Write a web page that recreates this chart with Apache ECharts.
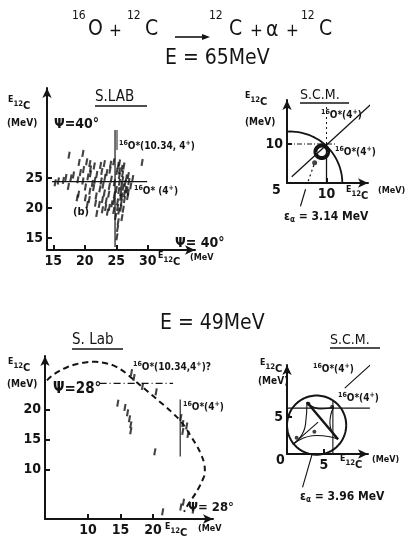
<!DOCTYPE html>
<html>
<head>
<meta charset="utf-8">
<script src="https://cdn.jsdelivr.net/npm/echarts@6/dist/echarts.min.js"></script>
<style>
  html, body { margin: 0; padding: 0; background: #fff; }
  #chart { width: 413px; height: 543px; }
</style>
</head>
<body>
<div id="chart"></div>
<script>
// ---------- data (MeV) ----------
// E = 65 MeV, laboratory frame: coincidence events
const lab65Events = [
  [17.5,28.8],[19.7,29.1],[19.1,27.6],[20.3,27.7],[20.8,27.4],[29.1,27.6],
  [15.3,24.2],[15.8,24.5],[16.6,24.6],[17.0,25.1],[17.8,25.0],[18.2,25.5],[18.9,24.7],[17.4,23.6],
  [19.3,25.9],[19.8,26.4],[20.9,26.5],[21.5,27.0],[22.5,27.1],[23.1,27.4],[24.1,27.3],[24.6,27.7],[25.5,27.5],[26.2,27.0],
  [19.7,24.5],[20.5,25.2],[20.9,25.7],[21.9,25.6],[22.7,26.1],[23.5,25.9],[24.0,26.3],
  [20.1,23.5],[21.2,24.1],[21.6,24.6],[22.6,24.5],[23.2,25.1],[24.2,24.8],
  [20.8,22.8],[21.4,23.4],[22.4,23.2],[22.9,23.8],[23.9,23.6],
  [25.3,27.1],[25.5,26.2],[26.0,25.7],[26.0,24.7],[26.4,24.1],[26.5,23.1],[26.3,22.4],[26.3,21.4],[25.8,20.9],[25.7,20.0],
  [25.1,26.1],[25.5,25.4],[25.5,24.3],[25.8,23.6],[25.7,22.5],[25.7,21.8],[25.2,21.0],[25.2,20.1],
  [26.9,25.4],[27.0,24.4],[27.3,23.7],[26.9,22.6],[26.8,21.9],[27.6,24.9],
  [24.7,24.2],[25.0,23.1],[24.7,22.2],[24.6,21.1],[25.4,22.9],[26.1,23.5],
  [25.9,26.6],[26.6,25.0],[26.7,23.0],[25.9,22.0],[25.4,19.5],[26.1,19.8],
  [19.0,22.3],[20.1,21.7],[20.7,21.4],[21.7,20.8],[22.3,20.6],[23.3,20.1],[23.9,20.1],[24.6,19.6],
  [21.8,22.0],[22.8,21.4],[23.4,21.2],[24.3,20.7],[23.1,22.5],[23.8,22.3],
  [18.8,21.7],[20.4,20.6],[21.9,19.1],[22.8,19.7],[23.6,19.3],
  [24.9,18.6],[25.3,17.7],[25.9,18.4],[25.2,16.6],[25.1,15.2]
];
const lab65Level1034 = [[24.8,13.5],[24.8,33.0]];   // vertical 16O*(10.34, 4+)
const lab65Level4 = [[14.8,24.4],[29.9,24.4]];       // horizontal 16O*(4+)

// E = 65 MeV, centre-of-mass frame
const scm65Boundary = [[5.4,5.0,6.6,0,93.5]];        // cx, cy, r, start/end angle (deg)
const scm65Diagonal = [[5.6,5.8],[16.8,16.2]];
const scm65Vertical = [[10,5],[10,10]];
const scm65VerticalUp = [[10,10],[10,14.8]];
const scm65Horizontal = [[5,10],[11.3,10]];
const scm65Cluster = [[9.4,9.0,0.8,0,360]];
const scm65Spot = [[8.5,7.6]];
const scm65Alpha = [[8.4,7.3],[7.6,5.0]];
const scm65AlphaLeader = [[7.35,4.2],[6.7,2.0]];

// E = 49 MeV, laboratory frame
const lab49Locus = [
  [3.7,24.9],[4.4,25.6],[5.5,26.4],[6.8,27.1],[8.2,27.6],[9.6,27.9],[11.2,28.0],[12.6,27.8],
  [13.9,27.4],[15.1,26.7],[16.2,25.8],[17.4,24.7],[18.6,23.6],[19.8,22.5],[21.0,21.4],[22.1,20.4],
  [23.1,19.4],[24.2,18.2],[25.1,16.9],[25.9,15.5],[26.7,14.1],[27.4,12.6],[27.9,11.0],[28.0,9.6],
  [27.6,8.2],[26.9,6.7],[26.1,5.3],[25.3,4.0],[24.8,3.0]
];
const lab49Level1034 = [[11.8,24.4],[23.1,24.4]];
const lab49Level4 = [[24.2,12.2],[24.2,21.7]];
const lab49Events = [
  [14.6,21.1],[15.7,20.4],[16.1,19.5],[16.4,18.5],[16.6,17.5],[16.6,16.5],
  [20.3,13.0],
  [16.7,26.2],[17.1,25.4],[18.4,23.9],[20.5,23.0],
  [24.3,18.7],[24.6,17.7],[25.2,17.3],[24.6,16.4],[25.4,15.9],
  [21.5,3.0],[24.3,3.8],[24.7,4.6],[26.2,3.3]
];

// E = 49 MeV, centre-of-mass frame
const scm49Boundary = [[4.0,3.9,4.0,0,360]];
const scm49EdgeTop = [[2.7,7.0],[4.5,6.1],[6.3,6.3]];
const scm49EdgeRight = [[6.3,6.3],[5.8,4.2],[6.9,2.0]];
const scm49EdgeBottom = [[6.9,2.0],[4.0,2.5],[0.8,1.3]];
const scm49EdgeLeft = [[0.8,1.3],[2.5,4.0],[2.7,7.0]];
const scm49Diagonal = [[2.7,7.0],[6.9,2.0]];
const scm49Inner = [[0.8,1.3],[4.2,4.3]];
const scm49Horizontal = [[0,6.2],[11.2,6.2]];
const scm49Vertical = [[6.2,0],[6.2,7.3]];
const scm49Leader = [[7.8,8.9],[12.0,12.7]];
const scm49AlphaLeader = [[3.4,0],[2.1,-4.5]];
const scm49Events = [[0.2,5.1],[2.9,6.8],[6.1,6.4],[3.7,3.0],[1.3,2.2]];

// axis ticks
const lab65XTicks = [15,20,25,30], lab65YTicks = [15,20,25];
const scm65XTicks = [10], scm65YTicks = [10];
const lab49XTicks = [10,15,20], lab49YTicks = [10,15,20];
const scm49XTicks = [5], scm49YTicks = [5];

// ---------- drawing ----------
const INK = '#141414';
const FONT = "'DejaVu Sans Condensed','DejaVu Sans',sans-serif";

const chart = echarts.init(document.getElementById('chart'), null, {renderer: 'canvas'});

function axis(min, max, ticks, extra) {
  return Object.assign({
    type: 'value', min: min, max: max,
    axisLine: {show: true, onZero: false, symbol: ['none', 'arrow'], symbolSize: [7, 10],
               lineStyle: {color: INK, width: 2}},
    axisTick: {show: true, inside: true, length: 5, customValues: ticks,
               lineStyle: {color: INK, width: 2}},
    axisLabel: {show: true, customValues: ticks, color: INK, fontSize: 14,
                fontFamily: FONT, fontWeight: 'bold', margin: 4},
    splitLine: {show: false}
  }, extra || {});
}

function seg(grid, data, opts) {
  opts = opts || {};
  return {
    type: 'line', xAxisIndex: grid, yAxisIndex: grid, data: data,
    symbol: 'none', silent: true, clip: false, smooth: opts.smooth || false,
    lineStyle: {color: INK, width: opts.width || 1.2, type: opts.type || 'solid'},
    z: 3
  };
}

function marks(grid, data, size) {
  return {
    type: 'scatter', xAxisIndex: grid, yAxisIndex: grid, data: data,
    symbol: 'rect', symbolSize: size || [2.1, 7], symbolRotate: -10,
    itemStyle: {color: INK}, silent: true, z: 4
  };
}

function dots(grid, data, size) {
  return {
    type: 'scatter', xAxisIndex: grid, yAxisIndex: grid, data: data,
    symbol: 'circle', symbolSize: size, itemStyle: {color: INK}, silent: true, z: 4
  };
}

// circle or arc given by centre, radius and angular range in data units
function arc(grid, data, width) {
  return {
    type: 'custom', xAxisIndex: grid, yAxisIndex: grid, data: data, silent: true, clip: false,
    encode: {x: 0, y: 1},
    renderItem: function (params, api) {
      const c = api.coord([api.value(0), api.value(1)]);
      const s = api.size([api.value(2), api.value(2)]);
      const a0 = api.value(3), a1 = api.value(4);
      const pts = [];
      for (let a = a0; a <= a1 + 0.01; a += 3) {
        const r = a * Math.PI / 180;
        pts.push([c[0] + s[0] * Math.cos(r), c[1] - s[1] * Math.sin(r)]);
      }
      return {type: 'polyline', shape: {points: pts},
              style: {stroke: INK, fill: null, lineWidth: width}};
    },
    z: 3
  };
}

// text helpers
const mctx = document.createElement('canvas').getContext('2d');
function tw(t, size, weight) {
  mctx.font = (weight || 'bold') + ' ' + size + 'px ' + FONT;
  return mctx.measureText(t).width;
}
const graphics = [];
function txt(t, x, yc, size, weight) {
  graphics.push({
    type: 'text', x: x, y: yc, silent: true, z: 10,
    style: {text: t, fill: INK, font: (weight || 'bold') + ' ' + size + 'px ' + FONT,
            textAlign: 'left', textVerticalAlign: 'middle', align: 'left', verticalAlign: 'middle'}
  });
}
// sequence of pieces [text, size, dy]
function run(x, yc, parts, weight) {
  parts.forEach(function (p) {
    txt(p[0], x, yc + (p[2] || 0), p[1], weight);
    x += tw(p[0], p[1], weight);
  });
}
function rule(x1, y1, x2, y2, w) {
  graphics.push({type: 'line', silent: true, z: 10,
    shape: {x1: x1, y1: y1, x2: x2, y2: y2}, style: {stroke: INK, lineWidth: w || 1.5}});
}
function ecLabel(x, yc, s) {
  run(x, yc, [['E', s * 0.8, -3], ['12', s * 0.7, 1], ['C', s, 3]]);
}
function levelLabel(x, yc, s, inner) {
  run(x, yc, [['16', s * 0.7, -3], ['O*', s, 0]].concat(inner));
}

// reaction header
txt('16', 72, 16, 12, 'normal'); txt('O', 88, 30, 21, 'normal');
txt('+', 109, 32, 17, 'normal');
txt('12', 127, 16, 12, 'normal'); txt('C', 145, 30, 21, 'normal');
rule(175, 37, 207, 37, 1.6);
graphics.push({type: 'polygon', silent: true, z: 10,
  shape: {points: [[210, 37], [202, 34], [202, 40]]}, style: {fill: INK}});
txt('12', 209, 16, 12, 'normal'); txt('C', 229, 30, 21, 'normal');
txt('+', 250, 32, 17, 'normal');
txt('α', 266, 31, 21, 'normal');
txt('+', 286, 32, 17, 'normal');
txt('12', 301, 16, 12, 'normal'); txt('C', 319, 30, 21, 'normal');

txt('E = 65MeV', 165, 59, 21, 'normal');
txt('E = 49MeV', 160, 324, 21, 'normal');

// panel: 65 MeV lab
ecLabel(8, 103, 11);
txt('(MeV)', 7, 123, 10);
txt('S.LAB', 95, 97, 15, 'normal'); rule(95, 106, 147, 106, 1.5);
txt('Ψ=40°', 54, 124, 14);
rule(117, 130, 117, 150, 1);
levelLabel(119, 146, 10, [['(10.34, 4', 10, 0], ['+', 7, -3], [')', 10, 0]]);
levelLabel(134, 191, 10, [[' (4', 10, 0], ['+', 7, -3], [')', 10, 0]]);
txt('(b)', 73, 212, 11);
txt('Ψ= 40°', 175, 243, 14);
ecLabel(158, 259, 11); txt('(MeV', 190, 258, 9);

// panel: 65 MeV c.m.
ecLabel(245, 99, 11);
txt('(MeV)', 245, 122, 10);
txt('S.C.M.', 300, 95, 14, 'normal'); rule(300, 103, 349, 103, 1.5);
levelLabel(321, 115, 10, [['(4', 10, 0], ['+', 7, -3], [')', 10, 0]]);
levelLabel(335, 152, 10, [['(4', 10, 0], ['+', 7, -3], [')', 10, 0]]);
txt('5', 272, 190, 14);
ecLabel(346, 193, 11); txt('(MeV)', 378, 191, 9);
run(284, 217, [['ε', 12, 0], ['α', 8, 3], [' = 3.14 MeV', 12, 0]]);

// panel: 49 MeV lab
txt('S. Lab', 72, 340, 15, 'normal'); rule(72, 349, 123, 349, 1.5);
ecLabel(8, 365, 11);
txt('(MeV)', 7, 384, 10);
txt('Ψ=28°', 53, 389, 15);
levelLabel(133, 367, 10, [['(10.34,4', 10, 0], ['+', 7, -3], [')?', 10, 0]]);
levelLabel(183, 407, 10, [['(4', 10, 0], ['+', 7, -3], [')', 10, 0]]);
txt('Ψ= 28°', 188, 508, 13);
ecLabel(165, 530, 11); txt('(MeV', 198, 529, 9);

// panel: 49 MeV c.m.
txt('S.C.M.', 330, 340, 14, 'normal'); rule(330, 348, 380, 348, 1.5);
ecLabel(260, 366, 11);
txt('(MeV)', 258, 381, 10);
levelLabel(313, 369, 10, [['(4', 10, 0], ['+', 7, -3], [')', 10, 0]]);
levelLabel(338, 398, 10, [['(4', 10, 0], ['+', 7, -3], [')', 10, 0]]);
txt('0', 276, 460, 14);
ecLabel(340, 462, 11); txt('(MeV)', 372, 460, 9);
run(300, 497, [['ε', 12, 0], ['α', 8, 3], [' = 3.96 MeV', 12, 0]]);

const option = {
  backgroundColor: '#fff',
  animation: false,
  grid: [
    {left: 47, top: 88, width: 148, height: 162},
    {left: 287, top: 100, width: 81, height: 83},
    {left: 45, top: 356, width: 168, height: 163},
    {left: 287, top: 365, width: 81, height: 89}
  ],
  xAxis: [
    axis(14, 14 + 148 / 6.3, lab65XTicks, {gridIndex: 0}),
    axis(5, 5 + 81 / 7.9, scm65XTicks, {gridIndex: 1}),
    axis(3.4, 3.4 + 168 / 6.5, lab49XTicks, {gridIndex: 2}),
    axis(0, 81 / 7.4, scm49XTicks, {gridIndex: 3})
  ],
  yAxis: [
    axis(13, 13 + 162 / 6, lab65YTicks, {gridIndex: 0}),
    axis(5, 5 + 83 / 7.8, scm65YTicks, {gridIndex: 1}),
    axis(1.8, 1.8 + 163 / 6, lab49YTicks, {gridIndex: 2}),
    axis(0, 89 / 7.4, scm49YTicks, {gridIndex: 3})
  ],
  graphic: graphics,
  series: [
    // 65 MeV lab
    seg(0, lab65Level1034, {width: 1.2}),
    seg(0, lab65Level4, {width: 1.2}),
    marks(0, lab65Events),
    // 65 MeV c.m.
    arc(1, scm65Boundary, 1.8),
    seg(1, scm65Diagonal, {width: 1.3}),
    seg(1, scm65Vertical, {width: 1.3}),
    seg(1, scm65VerticalUp, {width: 1, type: [2, 3]}),
    seg(1, scm65Horizontal, {width: 1.1, type: [5, 2, 1, 2]}),
    arc(1, scm65Cluster, 4),
    dots(1, scm65Spot, 5),
    seg(1, scm65Alpha, {width: 1.2, type: [2, 3]}),
    seg(1, scm65AlphaLeader, {width: 1.2}),
    // 49 MeV lab
    seg(2, lab49Locus, {width: 2, type: [6, 4], smooth: 0.4}),
    seg(2, lab49Level1034, {width: 1.1, type: [7, 3, 1, 3]}),
    seg(2, lab49Level4, {width: 1.1}),
    marks(2, lab49Events),
    // 49 MeV c.m.
    arc(3, scm49Boundary, 2),
    seg(3, scm49EdgeTop, {width: 1.1, smooth: 0.6}),
    seg(3, scm49EdgeRight, {width: 1.1, smooth: 0.6}),
    seg(3, scm49EdgeBottom, {width: 1.1, smooth: 0.6}),
    seg(3, scm49EdgeLeft, {width: 1.1, smooth: 0.6}),
    seg(3, scm49Diagonal, {width: 2.4}),
    seg(3, scm49Inner, {width: 1.1}),
    seg(3, scm49Horizontal, {width: 1.1}),
    seg(3, scm49Vertical, {width: 1.1}),
    seg(3, scm49Leader, {width: 1.1}),
    seg(3, scm49AlphaLeader, {width: 1.1}),
    dots(3, scm49Events, 4)
  ]
};
chart.setOption(option);
</script>
</body>
</html>
